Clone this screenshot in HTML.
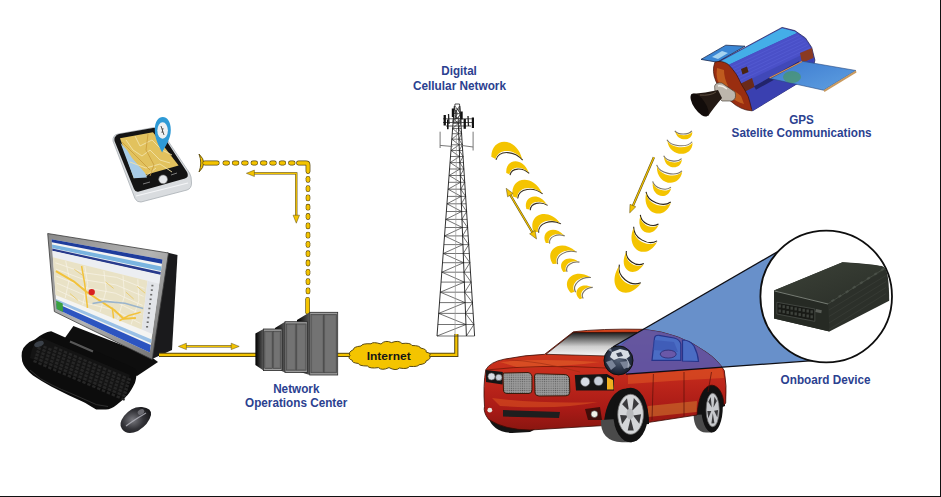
<!DOCTYPE html>
<html><head><meta charset="utf-8"><style>
html,body{margin:0;padding:0;background:#fff;width:941px;height:497px;overflow:hidden}
svg{display:block;position:absolute;left:0;top:0}
text{font-family:"Liberation Sans",sans-serif;font-weight:bold}
</style></head><body>
<svg width="941" height="497" viewBox="0 0 941 497">
<defs>
<linearGradient id="gBezel" x1="0" y1="0" x2="1" y2="1"><stop offset="0" stop-color="#8a8a8a"/><stop offset="0.5" stop-color="#b4b4b4"/><stop offset="1" stop-color="#6a6a6a"/></linearGradient>
<linearGradient id="gSide" x1="0" y1="0" x2="1" y2="0"><stop offset="0" stop-color="#000"/><stop offset="1" stop-color="#5a5a5a"/></linearGradient>
<linearGradient id="gWind" x1="0" y1="0" x2="0" y2="1"><stop offset="0" stop-color="#1a1a1a"/><stop offset="0.6" stop-color="#cfcfcf"/><stop offset="1" stop-color="#f4f4f4"/></linearGradient>
<linearGradient id="gCar" x1="0" y1="0" x2="0" y2="1"><stop offset="0" stop-color="#d4441c"/><stop offset="0.45" stop-color="#c42a1c"/><stop offset="0.8" stop-color="#a81a16"/><stop offset="1" stop-color="#8a1610"/></linearGradient>
<radialGradient id="gMouse" cx="0.4" cy="0.5" r="0.7"><stop offset="0" stop-color="#7a7a80"/><stop offset="0.5" stop-color="#333338"/><stop offset="1" stop-color="#121214"/></radialGradient>
<linearGradient id="gPanel" x1="0" y1="0" x2="1" y2="1"><stop offset="0" stop-color="#3c7ad0"/><stop offset="1" stop-color="#5fa0e0"/></linearGradient>
<linearGradient id="gBody" x1="0" y1="0" x2="0" y2="1"><stop offset="0" stop-color="#5070e0"/><stop offset="1" stop-color="#2838a0"/></linearGradient>
<linearGradient id="gDevTop" x1="0" y1="0" x2="1" y2="1"><stop offset="0" stop-color="#3c4238"/><stop offset="1" stop-color="#2a2e28"/></linearGradient>
<radialGradient id="gEng" cx="0.5" cy="0.45" r="0.6"><stop offset="0" stop-color="#5a667a"/><stop offset="0.6" stop-color="#2a3448"/><stop offset="1" stop-color="#101620"/></radialGradient>
<pattern id="mesh" width="2.2" height="2.2" patternUnits="userSpaceOnUse"><rect width="2.2" height="2.2" fill="#9a9a9a"/><circle cx="1.1" cy="1.1" r="0.6" fill="#5a5a5a"/></pattern>
</defs>
<rect x="940" y="0" width="1" height="497" fill="#111"/>
<rect x="0" y="496" width="941" height="1" fill="#111"/>
<path d="M113,141 Q112.5,135 118,134 L154,127.5 Q159,127 161,130.5 L189.5,173 Q191.5,176 191.5,183 Q191.5,188.5 187,190 L141,202 Q137,202.5 135,198.5 Z" fill="#d9dcdf" stroke="#a8aeb4" stroke-width="0.8"/>
<path d="M136,196 L188,183" stroke="#f4f6f8" stroke-width="1.2"/>
<path d="M115.5,136.5 Q116,134.5 119,134 L153,128 Q158,127.5 160,131 L187,172 Q189.5,177 185,178.5 L139,191.5 Q135.5,192.5 134,189 L114.5,141 Q114,137 115.5,136.5 Z" fill="#141414"/>
<path d="M120,138.2 L153,132.3 L178.6,165.5 L133.8,178.2 Z" fill="#e2c25e"/>
<path d="M120.5,143 L127,150 L132,158 L139,166 L145,173 L147,177.6 L133.8,178.2 Z" fill="#a8cce6"/>
<path d="M126,140 L133,150 L142,156 L150,150 L160,160 L170,163 M135,136 L140,146 L152,140 L162,150 L172,155 M130,162 L146,168 L160,164 L172,172 M146,176 L156,168" stroke="#f2e2a8" stroke-width="0.9" fill="none"/>
<path d="M122,142 L140,160 L150,170 M148,134 L146,150 L154,165 L150,176" stroke="#c89a3a" stroke-width="0.8" fill="none"/>
<circle cx="163.1" cy="179.3" r="4.4" fill="#e6e8ea" stroke="#666" stroke-width="0.6"/>
<path d="M143,184 L150,182 M171,175 L177,173" stroke="#888" stroke-width="0.9"/>
<path d="M154.8,130 C154.8,121 158.5,117 162.8,117 C167,117 170.8,121 170.8,130 C170.8,139 166,145 162.1,152.5 C158.5,145 154.8,139 154.8,130 Z" fill="#2e9ad6"/>
<ellipse cx="162.6" cy="130.5" rx="5.3" ry="8.2" fill="#eef0f2"/>
<path d="M161,126 L164,135 M163,128 L162,133" stroke="#444" stroke-width="0.9"/>
<path d="M199,154 Q208.5,163 199,172 Q202.5,163 199,154 Z" fill="#f4c400" stroke="#5a4a12" stroke-width="0.9"/>
<rect x="202.4" y="160.6" width="17.2" height="4.8" rx="2.4" fill="#5a4a12"/>
<rect x="203.0" y="161.2" width="16.0" height="3.6" rx="1.8" fill="#f4c400"/>
<rect x="222.5" y="160.6" width="7.4" height="4.8" rx="2.4" fill="#5a4a12"/>
<rect x="223.1" y="161.2" width="6.2" height="3.6" rx="1.8" fill="#f4c400"/>
<rect x="231.9" y="160.6" width="7.4" height="4.8" rx="2.4" fill="#5a4a12"/>
<rect x="232.5" y="161.2" width="6.2" height="3.6" rx="1.8" fill="#f4c400"/>
<rect x="241.2" y="160.6" width="7.4" height="4.8" rx="2.4" fill="#5a4a12"/>
<rect x="241.8" y="161.2" width="6.2" height="3.6" rx="1.8" fill="#f4c400"/>
<rect x="250.6" y="160.6" width="7.4" height="4.8" rx="2.4" fill="#5a4a12"/>
<rect x="251.2" y="161.2" width="6.2" height="3.6" rx="1.8" fill="#f4c400"/>
<rect x="260.0" y="160.6" width="7.4" height="4.8" rx="2.4" fill="#5a4a12"/>
<rect x="260.6" y="161.2" width="6.2" height="3.6" rx="1.8" fill="#f4c400"/>
<rect x="269.3" y="160.6" width="7.4" height="4.8" rx="2.4" fill="#5a4a12"/>
<rect x="269.9" y="161.2" width="6.2" height="3.6" rx="1.8" fill="#f4c400"/>
<rect x="278.7" y="160.6" width="7.4" height="4.8" rx="2.4" fill="#5a4a12"/>
<rect x="279.3" y="161.2" width="6.2" height="3.6" rx="1.8" fill="#f4c400"/>
<rect x="288.1" y="160.6" width="7.4" height="4.8" rx="2.4" fill="#5a4a12"/>
<rect x="288.7" y="161.2" width="6.2" height="3.6" rx="1.8" fill="#f4c400"/>
<path d="M298.5,163 L306,163 Q308,163 308,165 L308,171.5" stroke="#5a4a12" stroke-width="4.8" fill="none" stroke-linecap="round"/>
<path d="M298.5,163 L306,163 Q308,163 308,165 L308,171.5" stroke="#f4c400" stroke-width="3.4" fill="none" stroke-linecap="round"/>
<rect x="305.7" y="175.9" width="4.6" height="6.8" rx="2.3" fill="#5a4a12"/>
<rect x="306.3" y="176.5" width="3.4" height="5.6" rx="1.7" fill="#f4c400"/>
<rect x="305.7" y="185.2" width="4.6" height="6.8" rx="2.3" fill="#5a4a12"/>
<rect x="306.3" y="185.8" width="3.4" height="5.6" rx="1.7" fill="#f4c400"/>
<rect x="305.7" y="194.5" width="4.6" height="6.8" rx="2.3" fill="#5a4a12"/>
<rect x="306.3" y="195.1" width="3.4" height="5.6" rx="1.7" fill="#f4c400"/>
<rect x="305.7" y="203.8" width="4.6" height="6.8" rx="2.3" fill="#5a4a12"/>
<rect x="306.3" y="204.4" width="3.4" height="5.6" rx="1.7" fill="#f4c400"/>
<rect x="305.7" y="213.1" width="4.6" height="6.8" rx="2.3" fill="#5a4a12"/>
<rect x="306.3" y="213.7" width="3.4" height="5.6" rx="1.7" fill="#f4c400"/>
<rect x="305.7" y="222.4" width="4.6" height="6.8" rx="2.3" fill="#5a4a12"/>
<rect x="306.3" y="223.0" width="3.4" height="5.6" rx="1.7" fill="#f4c400"/>
<rect x="305.7" y="231.7" width="4.6" height="6.8" rx="2.3" fill="#5a4a12"/>
<rect x="306.3" y="232.3" width="3.4" height="5.6" rx="1.7" fill="#f4c400"/>
<rect x="305.7" y="241.0" width="4.6" height="6.8" rx="2.3" fill="#5a4a12"/>
<rect x="306.3" y="241.6" width="3.4" height="5.6" rx="1.7" fill="#f4c400"/>
<rect x="305.7" y="250.3" width="4.6" height="6.8" rx="2.3" fill="#5a4a12"/>
<rect x="306.3" y="250.9" width="3.4" height="5.6" rx="1.7" fill="#f4c400"/>
<rect x="305.7" y="259.6" width="4.6" height="6.8" rx="2.3" fill="#5a4a12"/>
<rect x="306.3" y="260.2" width="3.4" height="5.6" rx="1.7" fill="#f4c400"/>
<rect x="305.7" y="268.9" width="4.6" height="6.8" rx="2.3" fill="#5a4a12"/>
<rect x="306.3" y="269.5" width="3.4" height="5.6" rx="1.7" fill="#f4c400"/>
<rect x="305.7" y="278.2" width="4.6" height="6.8" rx="2.3" fill="#5a4a12"/>
<rect x="306.3" y="278.8" width="3.4" height="5.6" rx="1.7" fill="#f4c400"/>
<rect x="305.7" y="287.5" width="4.6" height="6.8" rx="2.3" fill="#5a4a12"/>
<rect x="306.3" y="288.1" width="3.4" height="5.6" rx="1.7" fill="#f4c400"/>
<rect x="305.3" y="296.9" width="4.6" height="17.7" rx="2.3" fill="#5a4a12"/>
<rect x="305.9" y="297.5" width="3.4" height="16.5" rx="1.7" fill="#f4c400"/>
<path d="M250,173.3 L296.3,173.3 L296.3,216" stroke="#5a4a12" stroke-width="2.2" fill="none"/>
<path d="M250,173.3 L296.3,173.3 L296.3,216" stroke="#f4c400" stroke-width="1.2" fill="none"/>
<path d="M246.4,173.3 L254.4,170.1 L254.4,176.5 Z" fill="#f4c400" stroke="#5a4a12" stroke-width="0.5"/>
<path d="M296.3,223.2 L293.1,215.2 L299.5,215.2 Z" fill="#f4c400" stroke="#5a4a12" stroke-width="0.5"/>
<path d="M73.4,326 L150,356 L158,362 L137,376 L62,342 Z" fill="#0e0e0e"/>
<path d="M167,252.5 L177.5,255 L172,350 L152,359 Z" fill="#1a1a1c"/>
<path d="M47.7,233.5 L168.5,253 L152.2,359.5 L54.4,311.6 Z" fill="url(#gBezel)" stroke="#3a3a3a" stroke-width="0.8"/>
<path d="M51.6,239.2 L162.5,259.5 L149.8,352.5 L56.6,308.9 Z" fill="#f4f4f2" />
<path d="M51.6,239.2 L162.5,259.5 L161.9,263.7 L51.8,242.3 Z" fill="#1e3c9c" />
<path d="M52.0,244.4 L161.5,266.5 L160.9,271.1 L52.2,247.9 Z" fill="#7ab4e0" />
<path d="M52.3,248.6 L160.8,272.1 L160.4,274.8 L52.4,250.7 Z" fill="#283a8c" />
<path d="M52.5,251.0 L160.3,275.3 L159.2,283.7 L52.9,257.3 Z" fill="#eceef2" />
<path d="M52.9,257.3 L147.5,280.8 L141.7,329.6 L55.6,295.0 Z" fill="#e9e2c6" />
<path d="M147.5,280.8 L159.2,283.7 L152.3,333.9 L141.7,329.6 Z" fill="#e2e4e8" />
<path d="M55.9,299.1 L151.6,339.5 L151.1,343.2 L56.1,301.9 Z" fill="#9ac0e6" />
<path d="M56.2,303.3 L150.8,345.1 L149.8,352.5 L56.6,308.9 Z" fill="#2c54c0" />
<path d="M56.0,300.5 L62.7,303.4 L63.1,312.0 L56.6,308.9 Z" fill="#3aa040" />
<path d="M55.4,262.8 L84.8,272.9 L116.4,277.3 L144.4,288.4" stroke="#f8f4e8" stroke-width="0.7" fill="none" stroke-linejoin="round"/>
<path d="M55.8,269.1 L84.7,279.8 L115.9,284.9 L143.5,296.4" stroke="#f8f4e8" stroke-width="0.7" fill="none" stroke-linejoin="round"/>
<path d="M56.2,276.1 L84.7,287.5 L115.3,293.2 L142.5,305.4" stroke="#f8f4e8" stroke-width="0.7" fill="none" stroke-linejoin="round"/>
<path d="M56.7,283.1 L84.7,295.1 L114.8,301.6 L141.4,314.4" stroke="#f8f4e8" stroke-width="0.7" fill="none" stroke-linejoin="round"/>
<path d="M57.2,290.1 L84.6,302.8 L114.2,310.0 L140.4,323.4" stroke="#f8f4e8" stroke-width="0.7" fill="none" stroke-linejoin="round"/>
<path d="M65.7,261.2 L69.4,278.8 L65.2,298.1" stroke="#f8f4e8" stroke-width="0.7" fill="none" stroke-linejoin="round"/>
<path d="M84.8,266.0 L87.8,284.6 L82.7,305.1" stroke="#f8f4e8" stroke-width="0.7" fill="none" stroke-linejoin="round"/>
<path d="M103.9,270.8 L106.1,290.3 L100.1,312.1" stroke="#f8f4e8" stroke-width="0.7" fill="none" stroke-linejoin="round"/>
<path d="M123.0,275.6 L124.5,296.1 L117.6,319.0" stroke="#f8f4e8" stroke-width="0.7" fill="none" stroke-linejoin="round"/>
<path d="M137.8,279.3 L138.8,300.6 L131.1,324.5" stroke="#f8f4e8" stroke-width="0.7" fill="none" stroke-linejoin="round"/>
<path d="M55.9,271.2 L74.5,281.9 L86.7,292.0 L99.6,300.5 L114.2,310.0 L123.6,318.8 L135.9,318.0" stroke="#f2c23a" stroke-width="2" fill="none" stroke-linejoin="round"/>
<path d="M81.6,266.0 L84.7,283.6 L87.5,307.8" stroke="#f2c23a" stroke-width="1.5" fill="none" stroke-linejoin="round"/>
<path d="M112.3,307.6 L113.6,318.3" stroke="#f2c23a" stroke-width="1.5" fill="none" stroke-linejoin="round"/>
<path d="M119.4,320.7 L129.0,315.4 L140.6,312.3" stroke="#f2c23a" stroke-width="1.6" fill="none" stroke-linejoin="round"/>
<path d="M92.5,303.5 L104.6,301.4 L124.9,303.3 L143.2,308.5" stroke="#9ab4cc" stroke-width="1.6" fill="none" stroke-linejoin="round"/>
<path d="M74.3,269.3 L82.7,275.4" stroke="#e8c860" stroke-width="0.8" fill="none" stroke-linejoin="round"/>
<path d="M105.5,281.9 L113.6,288.4" stroke="#e8c860" stroke-width="0.8" fill="none" stroke-linejoin="round"/>
<path d="M125.9,292.1 L133.7,299.0" stroke="#e8c860" stroke-width="0.8" fill="none" stroke-linejoin="round"/>
<path d="M69.9,293.5 L77.8,300.2" stroke="#e8c860" stroke-width="0.8" fill="none" stroke-linejoin="round"/>
<path d="M137.1,286.4 L145.0,293.1" stroke="#e8c860" stroke-width="0.8" fill="none" stroke-linejoin="round"/>
<circle cx="91.7" cy="292.1" r="3.2" fill="#d82020"/>
<rect x="151.4" y="284.8" width="2" height="1.6" fill="#6a6a6a"/>
<rect x="150.8" y="289.3" width="2" height="1.6" fill="#6a6a6a"/>
<rect x="150.2" y="293.9" width="2" height="1.6" fill="#6a6a6a"/>
<rect x="149.6" y="298.5" width="2" height="1.6" fill="#6a6a6a"/>
<rect x="149.0" y="303.1" width="2" height="1.6" fill="#6a6a6a"/>
<rect x="148.4" y="307.7" width="2" height="1.6" fill="#6a6a6a"/>
<rect x="147.9" y="312.2" width="2" height="1.6" fill="#6a6a6a"/>
<rect x="147.3" y="316.8" width="2" height="1.6" fill="#6a6a6a"/>
<rect x="146.7" y="321.4" width="2" height="1.6" fill="#6a6a6a"/>
<rect x="146.1" y="326.0" width="2" height="1.6" fill="#6a6a6a"/>
<path d="M51.2,331.3 L132.5,367.2 Q137.5,369 136.7,373.3 Q136,380 134.9,383 Q131,391 127.6,395 Q122,401 116.8,404.7 Q111,409.5 105.9,409.5 L96.2,409.5 Q90,406 85,402.8 Q77,399 69.2,395.5 Q60,391 51.2,386.5 Q41,381 33,375.6 Q24,368 22.2,361.2 Q20,350 26,345 Q30,341 34.9,339.5 Q44,332 51.2,331.3 Z" fill="#0c0c0c"/>
<path d="M30,370 Q40,380 52,385 Q62,390 70,393 L86,400 Q96,406 108,406.5" stroke="#323232" stroke-width="0.9" fill="none"/>
<path d="M40,337 L130,375 L123,397 L30,358 Q32,344 40,337 Z" fill="#141414"/>
<rect x="54.7" y="346.2" width="3.4" height="2.4" fill="#262626" transform="rotate(23 54.7 346.2)"/>
<rect x="59.6" y="348.3" width="3.4" height="2.4" fill="#262626" transform="rotate(23 59.6 348.3)"/>
<rect x="64.4" y="350.4" width="3.4" height="2.4" fill="#262626" transform="rotate(23 64.4 350.4)"/>
<rect x="69.3" y="352.5" width="3.4" height="2.4" fill="#262626" transform="rotate(23 69.3 352.5)"/>
<rect x="74.2" y="354.6" width="3.4" height="2.4" fill="#262626" transform="rotate(23 74.2 354.6)"/>
<rect x="79.1" y="356.7" width="3.4" height="2.4" fill="#262626" transform="rotate(23 79.1 356.7)"/>
<rect x="84.0" y="358.8" width="3.4" height="2.4" fill="#262626" transform="rotate(23 84.0 358.8)"/>
<rect x="88.9" y="360.8" width="3.4" height="2.4" fill="#262626" transform="rotate(23 88.9 360.8)"/>
<rect x="93.8" y="362.9" width="3.4" height="2.4" fill="#262626" transform="rotate(23 93.8 362.9)"/>
<rect x="98.7" y="365.0" width="3.4" height="2.4" fill="#262626" transform="rotate(23 98.7 365.0)"/>
<rect x="103.6" y="367.1" width="3.4" height="2.4" fill="#262626" transform="rotate(23 103.6 367.1)"/>
<rect x="108.4" y="369.2" width="3.4" height="2.4" fill="#262626" transform="rotate(23 108.4 369.2)"/>
<rect x="113.3" y="371.2" width="3.4" height="2.4" fill="#262626" transform="rotate(23 113.3 371.2)"/>
<rect x="118.2" y="373.3" width="3.4" height="2.4" fill="#262626" transform="rotate(23 118.2 373.3)"/>
<rect x="123.1" y="375.4" width="3.4" height="2.4" fill="#262626" transform="rotate(23 123.1 375.4)"/>
<rect x="128.0" y="377.5" width="3.4" height="2.4" fill="#262626" transform="rotate(23 128.0 377.5)"/>
<rect x="39.0" y="343.3" width="3.4" height="2.4" fill="#262626" transform="rotate(23 39.0 343.3)"/>
<rect x="43.9" y="345.4" width="3.4" height="2.4" fill="#262626" transform="rotate(23 43.9 345.4)"/>
<rect x="48.8" y="347.5" width="3.4" height="2.4" fill="#262626" transform="rotate(23 48.8 347.5)"/>
<rect x="53.7" y="349.6" width="3.4" height="2.4" fill="#262626" transform="rotate(23 53.7 349.6)"/>
<rect x="58.6" y="351.6" width="3.4" height="2.4" fill="#262626" transform="rotate(23 58.6 351.6)"/>
<rect x="63.4" y="353.7" width="3.4" height="2.4" fill="#262626" transform="rotate(23 63.4 353.7)"/>
<rect x="68.3" y="355.8" width="3.4" height="2.4" fill="#262626" transform="rotate(23 68.3 355.8)"/>
<rect x="73.2" y="357.9" width="3.4" height="2.4" fill="#262626" transform="rotate(23 73.2 357.9)"/>
<rect x="78.1" y="360.0" width="3.4" height="2.4" fill="#262626" transform="rotate(23 78.1 360.0)"/>
<rect x="83.0" y="362.1" width="3.4" height="2.4" fill="#262626" transform="rotate(23 83.0 362.1)"/>
<rect x="87.9" y="364.1" width="3.4" height="2.4" fill="#262626" transform="rotate(23 87.9 364.1)"/>
<rect x="92.8" y="366.2" width="3.4" height="2.4" fill="#262626" transform="rotate(23 92.8 366.2)"/>
<rect x="97.7" y="368.3" width="3.4" height="2.4" fill="#262626" transform="rotate(23 97.7 368.3)"/>
<rect x="102.6" y="370.4" width="3.4" height="2.4" fill="#262626" transform="rotate(23 102.6 370.4)"/>
<rect x="107.4" y="372.5" width="3.4" height="2.4" fill="#262626" transform="rotate(23 107.4 372.5)"/>
<rect x="112.3" y="374.6" width="3.4" height="2.4" fill="#262626" transform="rotate(23 112.3 374.6)"/>
<rect x="117.2" y="376.6" width="3.4" height="2.4" fill="#262626" transform="rotate(23 117.2 376.6)"/>
<rect x="122.1" y="378.7" width="3.4" height="2.4" fill="#262626" transform="rotate(23 122.1 378.7)"/>
<rect x="127.0" y="380.8" width="3.4" height="2.4" fill="#262626" transform="rotate(23 127.0 380.8)"/>
<rect x="38.0" y="346.6" width="3.4" height="2.4" fill="#262626" transform="rotate(23 38.0 346.6)"/>
<rect x="42.9" y="348.7" width="3.4" height="2.4" fill="#262626" transform="rotate(23 42.9 348.7)"/>
<rect x="47.8" y="350.8" width="3.4" height="2.4" fill="#262626" transform="rotate(23 47.8 350.8)"/>
<rect x="52.7" y="352.9" width="3.4" height="2.4" fill="#262626" transform="rotate(23 52.7 352.9)"/>
<rect x="57.6" y="354.9" width="3.4" height="2.4" fill="#262626" transform="rotate(23 57.6 354.9)"/>
<rect x="62.4" y="357.0" width="3.4" height="2.4" fill="#262626" transform="rotate(23 62.4 357.0)"/>
<rect x="67.3" y="359.1" width="3.4" height="2.4" fill="#262626" transform="rotate(23 67.3 359.1)"/>
<rect x="72.2" y="361.2" width="3.4" height="2.4" fill="#262626" transform="rotate(23 72.2 361.2)"/>
<rect x="77.1" y="363.3" width="3.4" height="2.4" fill="#262626" transform="rotate(23 77.1 363.3)"/>
<rect x="82.0" y="365.4" width="3.4" height="2.4" fill="#262626" transform="rotate(23 82.0 365.4)"/>
<rect x="86.9" y="367.4" width="3.4" height="2.4" fill="#262626" transform="rotate(23 86.9 367.4)"/>
<rect x="91.8" y="369.5" width="3.4" height="2.4" fill="#262626" transform="rotate(23 91.8 369.5)"/>
<rect x="96.7" y="371.6" width="3.4" height="2.4" fill="#262626" transform="rotate(23 96.7 371.6)"/>
<rect x="101.6" y="373.7" width="3.4" height="2.4" fill="#262626" transform="rotate(23 101.6 373.7)"/>
<rect x="106.4" y="375.8" width="3.4" height="2.4" fill="#262626" transform="rotate(23 106.4 375.8)"/>
<rect x="111.3" y="377.9" width="3.4" height="2.4" fill="#262626" transform="rotate(23 111.3 377.9)"/>
<rect x="116.2" y="379.9" width="3.4" height="2.4" fill="#262626" transform="rotate(23 116.2 379.9)"/>
<rect x="121.1" y="382.0" width="3.4" height="2.4" fill="#262626" transform="rotate(23 121.1 382.0)"/>
<rect x="126.0" y="384.1" width="3.4" height="2.4" fill="#262626" transform="rotate(23 126.0 384.1)"/>
<rect x="37.0" y="349.9" width="3.4" height="2.4" fill="#262626" transform="rotate(23 37.0 349.9)"/>
<rect x="41.9" y="352.0" width="3.4" height="2.4" fill="#262626" transform="rotate(23 41.9 352.0)"/>
<rect x="46.8" y="354.1" width="3.4" height="2.4" fill="#262626" transform="rotate(23 46.8 354.1)"/>
<rect x="51.7" y="356.1" width="3.4" height="2.4" fill="#262626" transform="rotate(23 51.7 356.1)"/>
<rect x="56.6" y="358.2" width="3.4" height="2.4" fill="#262626" transform="rotate(23 56.6 358.2)"/>
<rect x="61.4" y="360.3" width="3.4" height="2.4" fill="#262626" transform="rotate(23 61.4 360.3)"/>
<rect x="66.3" y="362.4" width="3.4" height="2.4" fill="#262626" transform="rotate(23 66.3 362.4)"/>
<rect x="71.2" y="364.5" width="3.4" height="2.4" fill="#262626" transform="rotate(23 71.2 364.5)"/>
<rect x="76.1" y="366.6" width="3.4" height="2.4" fill="#262626" transform="rotate(23 76.1 366.6)"/>
<rect x="81.0" y="368.6" width="3.4" height="2.4" fill="#262626" transform="rotate(23 81.0 368.6)"/>
<rect x="85.9" y="370.7" width="3.4" height="2.4" fill="#262626" transform="rotate(23 85.9 370.7)"/>
<rect x="90.8" y="372.8" width="3.4" height="2.4" fill="#262626" transform="rotate(23 90.8 372.8)"/>
<rect x="95.7" y="374.9" width="3.4" height="2.4" fill="#262626" transform="rotate(23 95.7 374.9)"/>
<rect x="100.6" y="377.0" width="3.4" height="2.4" fill="#262626" transform="rotate(23 100.6 377.0)"/>
<rect x="105.4" y="379.1" width="3.4" height="2.4" fill="#262626" transform="rotate(23 105.4 379.1)"/>
<rect x="110.3" y="381.1" width="3.4" height="2.4" fill="#262626" transform="rotate(23 110.3 381.1)"/>
<rect x="115.2" y="383.2" width="3.4" height="2.4" fill="#262626" transform="rotate(23 115.2 383.2)"/>
<rect x="120.1" y="385.3" width="3.4" height="2.4" fill="#262626" transform="rotate(23 120.1 385.3)"/>
<rect x="125.0" y="387.4" width="3.4" height="2.4" fill="#262626" transform="rotate(23 125.0 387.4)"/>
<rect x="36.0" y="353.2" width="3.4" height="2.4" fill="#262626" transform="rotate(23 36.0 353.2)"/>
<rect x="40.9" y="355.3" width="3.4" height="2.4" fill="#262626" transform="rotate(23 40.9 355.3)"/>
<rect x="45.8" y="357.4" width="3.4" height="2.4" fill="#262626" transform="rotate(23 45.8 357.4)"/>
<rect x="50.7" y="359.4" width="3.4" height="2.4" fill="#262626" transform="rotate(23 50.7 359.4)"/>
<rect x="55.6" y="361.5" width="3.4" height="2.4" fill="#262626" transform="rotate(23 55.6 361.5)"/>
<rect x="60.4" y="363.6" width="3.4" height="2.4" fill="#262626" transform="rotate(23 60.4 363.6)"/>
<rect x="65.3" y="365.7" width="3.4" height="2.4" fill="#262626" transform="rotate(23 65.3 365.7)"/>
<rect x="70.2" y="367.8" width="3.4" height="2.4" fill="#262626" transform="rotate(23 70.2 367.8)"/>
<rect x="75.1" y="369.9" width="3.4" height="2.4" fill="#262626" transform="rotate(23 75.1 369.9)"/>
<rect x="80.0" y="371.9" width="3.4" height="2.4" fill="#262626" transform="rotate(23 80.0 371.9)"/>
<rect x="84.9" y="374.0" width="3.4" height="2.4" fill="#262626" transform="rotate(23 84.9 374.0)"/>
<rect x="89.8" y="376.1" width="3.4" height="2.4" fill="#262626" transform="rotate(23 89.8 376.1)"/>
<rect x="94.7" y="378.2" width="3.4" height="2.4" fill="#262626" transform="rotate(23 94.7 378.2)"/>
<rect x="99.6" y="380.3" width="3.4" height="2.4" fill="#262626" transform="rotate(23 99.6 380.3)"/>
<rect x="104.4" y="382.4" width="3.4" height="2.4" fill="#262626" transform="rotate(23 104.4 382.4)"/>
<rect x="109.3" y="384.4" width="3.4" height="2.4" fill="#262626" transform="rotate(23 109.3 384.4)"/>
<rect x="114.2" y="386.5" width="3.4" height="2.4" fill="#262626" transform="rotate(23 114.2 386.5)"/>
<rect x="119.1" y="388.6" width="3.4" height="2.4" fill="#262626" transform="rotate(23 119.1 388.6)"/>
<rect x="124.0" y="390.7" width="3.4" height="2.4" fill="#262626" transform="rotate(23 124.0 390.7)"/>
<rect x="35.0" y="356.5" width="3.4" height="2.4" fill="#262626" transform="rotate(23 35.0 356.5)"/>
<rect x="39.9" y="358.6" width="3.4" height="2.4" fill="#262626" transform="rotate(23 39.9 358.6)"/>
<rect x="44.8" y="360.7" width="3.4" height="2.4" fill="#262626" transform="rotate(23 44.8 360.7)"/>
<rect x="49.7" y="362.8" width="3.4" height="2.4" fill="#262626" transform="rotate(23 49.7 362.8)"/>
<rect x="54.6" y="364.8" width="3.4" height="2.4" fill="#262626" transform="rotate(23 54.6 364.8)"/>
<rect x="59.4" y="366.9" width="3.4" height="2.4" fill="#262626" transform="rotate(23 59.4 366.9)"/>
<rect x="64.3" y="369.0" width="3.4" height="2.4" fill="#262626" transform="rotate(23 64.3 369.0)"/>
<rect x="69.2" y="371.1" width="3.4" height="2.4" fill="#262626" transform="rotate(23 69.2 371.1)"/>
<rect x="74.1" y="373.2" width="3.4" height="2.4" fill="#262626" transform="rotate(23 74.1 373.2)"/>
<rect x="79.0" y="375.2" width="3.4" height="2.4" fill="#262626" transform="rotate(23 79.0 375.2)"/>
<rect x="83.9" y="377.3" width="3.4" height="2.4" fill="#262626" transform="rotate(23 83.9 377.3)"/>
<rect x="88.8" y="379.4" width="3.4" height="2.4" fill="#262626" transform="rotate(23 88.8 379.4)"/>
<rect x="93.7" y="381.5" width="3.4" height="2.4" fill="#262626" transform="rotate(23 93.7 381.5)"/>
<rect x="98.6" y="383.6" width="3.4" height="2.4" fill="#262626" transform="rotate(23 98.6 383.6)"/>
<rect x="103.4" y="385.7" width="3.4" height="2.4" fill="#262626" transform="rotate(23 103.4 385.7)"/>
<rect x="108.3" y="387.8" width="3.4" height="2.4" fill="#262626" transform="rotate(23 108.3 387.8)"/>
<rect x="113.2" y="389.8" width="3.4" height="2.4" fill="#262626" transform="rotate(23 113.2 389.8)"/>
<rect x="118.1" y="391.9" width="3.4" height="2.4" fill="#262626" transform="rotate(23 118.1 391.9)"/>
<rect x="123.0" y="394.0" width="3.4" height="2.4" fill="#262626" transform="rotate(23 123.0 394.0)"/>
<rect x="34.0" y="359.8" width="3.4" height="2.4" fill="#262626" transform="rotate(23 34.0 359.8)"/>
<rect x="38.9" y="361.9" width="3.4" height="2.4" fill="#262626" transform="rotate(23 38.9 361.9)"/>
<rect x="43.8" y="364.0" width="3.4" height="2.4" fill="#262626" transform="rotate(23 43.8 364.0)"/>
<rect x="48.7" y="366.1" width="3.4" height="2.4" fill="#262626" transform="rotate(23 48.7 366.1)"/>
<rect x="53.6" y="368.1" width="3.4" height="2.4" fill="#262626" transform="rotate(23 53.6 368.1)"/>
<rect x="58.4" y="370.2" width="3.4" height="2.4" fill="#262626" transform="rotate(23 58.4 370.2)"/>
<rect x="63.3" y="372.3" width="3.4" height="2.4" fill="#262626" transform="rotate(23 63.3 372.3)"/>
<rect x="68.2" y="374.4" width="3.4" height="2.4" fill="#262626" transform="rotate(23 68.2 374.4)"/>
<rect x="73.1" y="376.5" width="3.4" height="2.4" fill="#262626" transform="rotate(23 73.1 376.5)"/>
<rect x="78.0" y="378.6" width="3.4" height="2.4" fill="#262626" transform="rotate(23 78.0 378.6)"/>
<rect x="82.9" y="380.6" width="3.4" height="2.4" fill="#262626" transform="rotate(23 82.9 380.6)"/>
<rect x="87.8" y="382.7" width="3.4" height="2.4" fill="#262626" transform="rotate(23 87.8 382.7)"/>
<rect x="92.7" y="384.8" width="3.4" height="2.4" fill="#262626" transform="rotate(23 92.7 384.8)"/>
<rect x="97.6" y="386.9" width="3.4" height="2.4" fill="#262626" transform="rotate(23 97.6 386.9)"/>
<rect x="102.4" y="389.0" width="3.4" height="2.4" fill="#262626" transform="rotate(23 102.4 389.0)"/>
<rect x="107.3" y="391.1" width="3.4" height="2.4" fill="#262626" transform="rotate(23 107.3 391.1)"/>
<rect x="112.2" y="393.1" width="3.4" height="2.4" fill="#262626" transform="rotate(23 112.2 393.1)"/>
<rect x="117.1" y="395.2" width="3.4" height="2.4" fill="#262626" transform="rotate(23 117.1 395.2)"/>
<rect x="122.0" y="397.3" width="3.4" height="2.4" fill="#262626" transform="rotate(23 122.0 397.3)"/>
<path d="M70,341.5 L93,351.5" stroke="#8a8a8a" stroke-width="2.2" opacity="0.6"/>
<ellipse cx="39" cy="344" rx="5" ry="2.6" fill="#3a4048" transform="rotate(-20 39 344)"/>
<path d="M122,429 Q118,424 124,416 Q132,406 142,407 Q152,408 151,415 Q149,424 138,431 Q127,436 122,429 Z" fill="url(#gMouse)"/>
<path d="M126,426 Q134,420 146,413" stroke="#b8b8c0" stroke-width="1.3" fill="none" opacity="0.8"/><ellipse cx="141" cy="412" rx="3.5" ry="2.5" fill="#6a6a70" transform="rotate(-30 141 412)"/>
<path d="M159,354.9 L256,354.9" stroke="#5a4a12" stroke-width="4.2" fill="none" stroke-linejoin="miter"/>
<path d="M159,354.9 L256,354.9" stroke="#f4c400" stroke-width="2.2" fill="none" stroke-linejoin="miter"/>
<path d="M337,354.9 L352,354.9" stroke="#5a4a12" stroke-width="4.2" fill="none" stroke-linejoin="miter"/>
<path d="M337,354.9 L352,354.9" stroke="#f4c400" stroke-width="2.2" fill="none" stroke-linejoin="miter"/>
<path d="M428,354.9 L456.3,354.9 L456.3,334" stroke="#5a4a12" stroke-width="4.2" fill="none" stroke-linejoin="miter"/>
<path d="M428,354.9 L456.3,354.9 L456.3,334" stroke="#f4c400" stroke-width="2.2" fill="none" stroke-linejoin="miter"/>
<path d="M182,346.4 L235,346.4" stroke="#5a4a12" stroke-width="2.2" fill="none"/>
<path d="M182,346.4 L235,346.4" stroke="#f4c400" stroke-width="1.2" fill="none"/>
<path d="M178.4,346.4 L186.4,343.2 L186.4,349.6 Z" fill="#f4c400" stroke="#5a4a12" stroke-width="0.5"/>
<path d="M239.2,346.4 L231.2,349.6 L231.2,343.2 Z" fill="#f4c400" stroke="#5a4a12" stroke-width="0.5"/>
<path d="M297,320 L309.7,312.3 L309.7,375 L297,371 Z" fill="url(#gSide)"/>
<rect x="309.7" y="312.3" width="28.0" height="62.69999999999999" fill="#9c9c9c" stroke="#2a2a2a" stroke-width="0.8"/>
<rect x="310.9" y="314.5" width="12.5" height="58.3" fill="#6a6a6a" stroke="#3a3a3a" stroke-width="0.6"/>
<rect x="312.1" y="315.7" width="10.1" height="55.9" fill="#737373"/>
<rect x="324.0" y="314.5" width="12.5" height="58.3" fill="#6a6a6a" stroke="#3a3a3a" stroke-width="0.6"/>
<rect x="325.2" y="315.7" width="10.1" height="55.9" fill="#737373"/>
<path d="M275,328 L285,321.7 L285,372.4 L275,368 Z" fill="url(#gSide)"/>
<rect x="285" y="321.7" width="22.30000000000001" height="50.69999999999999" fill="#9c9c9c" stroke="#2a2a2a" stroke-width="0.8"/>
<rect x="286.2" y="323.9" width="9.7" height="46.3" fill="#6a6a6a" stroke="#3a3a3a" stroke-width="0.6"/>
<rect x="287.4" y="325.1" width="7.3" height="43.9" fill="#737373"/>
<rect x="296.4" y="323.9" width="9.7" height="46.3" fill="#6a6a6a" stroke="#3a3a3a" stroke-width="0.6"/>
<rect x="297.6" y="325.1" width="7.3" height="43.9" fill="#737373"/>
<path d="M255.4,333.5 L263.5,329 L263.5,370.6 L255.4,365 Z" fill="url(#gSide)"/>
<rect x="263.5" y="329" width="18.5" height="41.60000000000002" fill="#9c9c9c" stroke="#2a2a2a" stroke-width="0.8"/>
<rect x="264.7" y="331.2" width="7.8" height="37.2" fill="#6a6a6a" stroke="#3a3a3a" stroke-width="0.6"/>
<rect x="265.9" y="332.4" width="5.3" height="34.8" fill="#737373"/>
<rect x="273.1" y="331.2" width="7.8" height="37.2" fill="#6a6a6a" stroke="#3a3a3a" stroke-width="0.6"/>
<rect x="274.2" y="332.4" width="5.3" height="34.8" fill="#737373"/>
<path d="M350,355.7 Q347.6,352.3 353.5,349.5 Q353.2,346.9 361,346 Q362.2,343.3 371,343.8 Q372.8,341.4 381,344 Q385.2,339.6 391.5,342.6 Q398.9,339.8 402,343.5 Q410.6,342.5 412,345.5 Q420.2,345.6 420.5,348 Q427.4,349.4 426,352 Q431.9,353.7 429.5,355.7 Q431.9,358.6 426,361 Q426.6,363.7 419,364.8 Q418.1,367.0 409.5,366.4 Q407.8,369.5 399.5,368 Q395.8,371.3 389,367.6 Q381.9,371.0 378.5,367.6 Q369.5,368.9 367.5,366 Q359.0,366.0 358.5,363.5 Q351.4,362.7 352.5,360.5 Q347.1,358.4 350,355.7 Z" fill="#f4c400" stroke="#5a4a12" stroke-width="1"/>
<text x="388.7" y="359.5" font-size="11.8" fill="#161616" text-anchor="middle" textLength="44" lengthAdjust="spacingAndGlyphs">Internet</text>
<text x="459.1" y="75.2" font-size="11.9" fill="#2b4190" text-anchor="middle" textLength="35.5" lengthAdjust="spacingAndGlyphs">Digital</text>
<text x="459.5" y="89.6" font-size="11.9" fill="#2b4190" text-anchor="middle" textLength="93" lengthAdjust="spacingAndGlyphs">Cellular Network</text>
<text x="296.3" y="392.7" font-size="11.9" fill="#2b4190" text-anchor="middle" textLength="46.3" lengthAdjust="spacingAndGlyphs">Network</text>
<text x="296.2" y="406.6" font-size="11.9" fill="#2b4190" text-anchor="middle" textLength="102.2" lengthAdjust="spacingAndGlyphs">Operations Center</text>
<text x="801.6" y="123.5" font-size="11.9" fill="#2b4190" text-anchor="middle" textLength="24.6" lengthAdjust="spacingAndGlyphs">GPS</text>
<text x="801.6" y="137.4" font-size="11.9" fill="#2b4190" text-anchor="middle" textLength="140" lengthAdjust="spacingAndGlyphs">Satelite Communications</text>
<text x="825.6" y="384.4" font-size="11.9" fill="#2b4190" text-anchor="middle" textLength="90" lengthAdjust="spacingAndGlyphs">Onboard Device</text>
<path d="M437.0,336.0 L474.6,336.0 M437.0,336.0 L466.0,324.5 M466.4,336.0 L473.9,324.5 M437.9,324.5 L473.9,324.5 M466.0,324.5 L438.7,313.4 M473.9,324.5 L465.5,313.4 M438.7,313.4 L473.1,313.4 M438.7,313.4 L465.1,302.6 M465.5,313.4 L472.5,302.6 M439.5,302.6 L472.5,302.6 M465.1,302.6 L440.3,292.2 M472.5,302.6 L464.7,292.2 M440.3,292.2 L471.8,292.2 M440.3,292.2 L464.3,282.1 M464.7,292.2 L471.1,282.1 M441.1,282.1 L471.1,282.1 M464.3,282.1 L441.8,272.2 M471.1,282.1 L464.0,272.2 M441.8,272.2 L470.5,272.2 M441.8,272.2 L463.6,262.7 M464.0,272.2 L469.9,262.7 M442.5,262.7 L469.9,262.7 M463.6,262.7 L443.2,253.5 M469.9,262.7 L463.3,253.5 M443.2,253.5 L469.3,253.5 M443.2,253.5 L462.9,244.6 M463.3,253.5 L468.7,244.6 M443.9,244.6 L468.7,244.6 M462.9,244.6 L444.5,235.9 M468.7,244.6 L462.6,235.9 M444.5,235.9 L468.2,235.9 M444.5,235.9 L462.3,227.5 M462.6,235.9 L467.6,227.5 M445.2,227.5 L467.6,227.5 M462.3,227.5 L445.8,219.4 M467.6,227.5 L461.9,219.4 M445.8,219.4 L467.1,219.4 M445.8,219.4 L461.6,211.5 M461.9,219.4 L466.6,211.5 M446.4,211.5 L466.6,211.5 M461.6,211.5 L447.0,203.8 M466.6,211.5 L461.4,203.8 M447.0,203.8 L466.1,203.8 M447.0,203.8 L461.1,196.4 M461.4,203.8 L465.6,196.4 M447.5,196.4 L465.6,196.4 M461.1,196.4 L448.1,189.2 M465.6,196.4 L460.8,189.2 M448.1,189.2 L465.2,189.2 M448.1,189.2 L460.5,182.3 M460.8,189.2 L464.7,182.3 M448.6,182.3 L464.7,182.3 M460.5,182.3 L449.1,175.5 M464.7,182.3 L460.3,175.5 M449.1,175.5 L464.3,175.5 M449.1,175.5 L460.0,169.0 M460.3,175.5 L463.9,169.0 M449.6,169.0 L463.9,169.0 M460.0,169.0 L450.1,162.6 M463.9,169.0 L459.8,162.6 M450.1,162.6 L463.5,162.6 M450.1,162.6 L459.5,156.5 M459.8,162.6 L463.1,156.5 M450.5,156.5 L463.1,156.5 M459.5,156.5 L451.0,150.5 M463.1,156.5 L459.3,150.5 M451.0,150.5 L462.7,150.5 M451.0,150.5 L459.1,144.8 M459.3,150.5 L462.3,144.8 M451.4,144.8 L462.3,144.8 M459.1,144.8 L451.8,139.2 M462.3,144.8 L458.9,139.2 M451.8,139.2 L462.0,139.2 M451.8,139.2 L458.7,133.7 M458.9,139.2 L461.6,133.7 M452.2,133.7 L461.6,133.7 M458.7,133.7 L452.6,128.5 M461.6,133.7 L458.5,128.5 M452.6,128.5 L461.3,128.5 M452.6,128.5 L458.3,123.4 M458.5,128.5 L460.9,123.4 M453.0,123.4 L460.9,123.4 M458.3,123.4 L453.4,118.4 M460.9,123.4 L458.1,118.4 M453.4,118.4 L460.6,118.4 M453.4,118.4 L457.9,113.6 M458.1,118.4 L460.3,113.6 M453.8,113.6 L460.3,113.6 M457.9,113.6 L454.1,109.0 M460.3,113.6 L457.7,109.0 M454.1,109.0 L460.0,109.0" stroke="#262626" stroke-width="0.65" fill="none"/>
<path d="M456.5,129 L455.0,336" stroke="#9a9a9a" stroke-width="0.7"/>
<path d="M454.3,106 L437.0,336 M459.8,106 L474.6,336 M458.2,120 L466.4,336" stroke="#1a1a1a" stroke-width="0.9" fill="none"/>
<path d="M455,104 L459.5,104 L461,122 L453,122 Z" fill="none" stroke="#222" stroke-width="0.8"/>
<path d="M455,106 L460,113 M459.5,106 L454.5,114 M453.5,115 L460.5,121 M460.5,115 L453.5,121" stroke="#222" stroke-width="0.6"/>
<path d="M443,118.8 L474,118.8 M443,122.5 L474,122.5 M446,126 L471,126" stroke="#333" stroke-width="0.8"/>
<rect x="443.6" y="115" width="2.3" height="10.5" fill="#111"/>
<rect x="447" y="119.5" width="1.6" height="9.7" fill="#111"/>
<rect x="451.8" y="108.5" width="2.2" height="8.5" fill="#111"/>
<rect x="460.5" y="111.5" width="2.2" height="8.0" fill="#111"/>
<rect x="463.6" y="119" width="2.3" height="9.8" fill="#111"/>
<rect x="471.8" y="117.5" width="2.2" height="10.5" fill="#111"/>
<path d="M448.5,114 L449,124 M456,110 L456,119 M468,116 L468.5,126" stroke="#222" stroke-width="1.3"/>
<path d="M440.1,131.7 L440.1,148 M473.1,131.7 L473.1,150.5 M440.1,145.4 L452.5,146.5 M473.1,147 L462,145.5" stroke="#6a6a6a" stroke-width="0.9" fill="none"/>
<g transform="translate(507.2,149.5) rotate(3.0) translate(0,8.1)"><path d="M15.50,0.81 C6.98,-8.06 -8.53,-8.70 -11.16,1.93" stroke="#3a3222" stroke-width="1.1" fill="none" transform="translate(0.5,0.9)"/><path d="M-15.50,0 C-16.28,-20.15 8.53,-21.76 15.50,0.81 C6.98,-9.03 -8.53,-9.67 -11.16,1.93 Z" fill="#f4c400"/></g>
<g transform="translate(517.2,166.7) rotate(-2.6) translate(0,5.8)"><path d="M11.17,0.58 C5.02,-5.81 -6.14,-6.27 -8.04,1.39" stroke="#3a3222" stroke-width="1.1" fill="none" transform="translate(0.5,0.9)"/><path d="M-11.17,0 C-11.72,-14.52 6.14,-15.68 11.17,0.58 C5.02,-6.50 -6.14,-6.97 -8.04,1.39 Z" fill="#f4c400"/></g>
<g transform="translate(526.2,186.7) rotate(-8.1) translate(0,7.7)"><path d="M14.72,0.77 C6.62,-7.66 -8.10,-8.27 -10.60,1.84" stroke="#3a3222" stroke-width="1.1" fill="none" transform="translate(0.5,0.9)"/><path d="M-14.72,0 C-15.46,-19.14 8.10,-20.67 14.72,0.77 C6.62,-8.57 -8.10,-9.19 -10.60,1.84 Z" fill="#f4c400"/></g>
<g transform="translate(535.3,201.2) rotate(-13.7) translate(0,5.5)"><path d="M10.50,0.55 C4.73,-5.46 -5.78,-5.90 -7.56,1.31" stroke="#3a3222" stroke-width="1.1" fill="none" transform="translate(0.5,0.9)"/><path d="M-10.50,0 C-11.03,-13.65 5.78,-14.74 10.50,0.55 C4.73,-6.12 -5.78,-6.55 -7.56,1.31 Z" fill="#f4c400"/></g>
<g transform="translate(544.4,220.2) rotate(-19.2) translate(0,7.3)"><path d="M13.94,0.73 C6.28,-7.25 -7.67,-7.83 -10.04,1.74" stroke="#3a3222" stroke-width="1.1" fill="none" transform="translate(0.5,0.9)"/><path d="M-13.94,0 C-14.64,-18.13 7.67,-19.58 13.94,0.73 C6.28,-8.12 -7.67,-8.70 -10.04,1.74 Z" fill="#f4c400"/></g>
<g transform="translate(552.6,234.3) rotate(-24.8) translate(0,5.1)"><path d="M9.83,0.51 C4.43,-5.11 -5.41,-5.52 -7.08,1.23" stroke="#7a7468" stroke-width="1.1" fill="none" transform="translate(0.5,0.9)"/><path d="M-9.83,0 C-10.33,-12.78 5.41,-13.81 9.83,0.51 C4.43,-5.73 -5.41,-6.14 -7.08,1.23 Z" fill="#f4c400"/></g>
<g transform="translate(560.7,251.6) rotate(-30.3) translate(0,6.8)"><path d="M13.17,0.68 C5.93,-6.85 -7.24,-7.39 -9.48,1.64" stroke="#7a7468" stroke-width="1.1" fill="none" transform="translate(0.5,0.9)"/><path d="M-13.17,0 C-13.83,-17.12 7.24,-18.49 13.17,0.68 C5.93,-7.67 -7.24,-8.22 -9.48,1.64 Z" fill="#f4c400"/></g>
<g transform="translate(568.0,262.8) rotate(-35.9) translate(0,4.8)"><path d="M9.17,0.48 C4.12,-4.77 -5.04,-5.15 -6.60,1.14" stroke="#7a7468" stroke-width="1.1" fill="none" transform="translate(0.5,0.9)"/><path d="M-9.17,0 C-9.62,-11.92 5.04,-12.87 9.17,0.48 C4.12,-5.34 -5.04,-5.72 -6.60,1.14 Z" fill="#f4c400"/></g>
<g transform="translate(576.0,280.0) rotate(-41.4) translate(0,6.4)"><path d="M12.39,0.64 C5.58,-6.44 -6.81,-6.96 -8.92,1.55" stroke="#7a7468" stroke-width="1.1" fill="none" transform="translate(0.5,0.9)"/><path d="M-12.39,0 C-13.01,-16.11 6.81,-17.39 12.39,0.64 C5.58,-7.22 -6.81,-7.73 -8.92,1.55 Z" fill="#f4c400"/></g>
<g transform="translate(582.4,290.0) rotate(-47.0) translate(0,4.4)"><path d="M8.50,0.44 C3.83,-4.42 -4.68,-4.77 -6.12,1.06" stroke="#7a7468" stroke-width="1.1" fill="none" transform="translate(0.5,0.9)"/><path d="M-8.50,0 C-8.93,-11.05 4.68,-11.93 8.50,0.44 C3.83,-4.95 -4.68,-5.30 -6.12,1.06 Z" fill="#f4c400"/></g>
<g transform="translate(683.8,135.5) rotate(180.0) translate(0,3.8)"><path d="M8.50,0 C5.27,-4.28 -5.27,-4.13 -8.50,0" stroke="#7a7468" stroke-width="1.1" fill="none" transform="translate(0.5,0.9)"/><path d="M-8.50,0 C-9.18,-9.95 6.38,-10.40 8.50,0 C5.27,-4.74 -5.27,-4.59 -8.50,0 Z" fill="#f4c400"/></g>
<g transform="translate(679.5,147.7) rotate(184.4) translate(0,6.0)"><path d="M12.67,0 C7.85,-6.75 -7.85,-6.51 -12.67,0" stroke="#7a7468" stroke-width="1.1" fill="none" transform="translate(0.5,0.9)"/><path d="M-12.67,0 C-13.68,-15.66 9.50,-16.38 12.67,0 C7.85,-7.47 -7.85,-7.23 -12.67,0 Z" fill="#f4c400"/></g>
<g transform="translate(672.3,162.6) rotate(188.9) translate(0,4.5)"><path d="M9.06,0 C5.61,-5.08 -5.61,-4.90 -9.06,0" stroke="#7a7468" stroke-width="1.1" fill="none" transform="translate(0.5,0.9)"/><path d="M-9.06,0 C-9.78,-11.80 6.79,-12.34 9.06,0 C5.61,-5.63 -5.61,-5.45 -9.06,0 Z" fill="#f4c400"/></g>
<g transform="translate(668.0,175.5) rotate(193.3) translate(0,6.8)"><path d="M13.00,0 C8.06,-7.67 -8.06,-7.39 -13.00,0" stroke="#7a7468" stroke-width="1.1" fill="none" transform="translate(0.5,0.9)"/><path d="M-13.00,0 C-14.04,-17.80 9.75,-18.62 13.00,0 C8.06,-8.49 -8.06,-8.22 -13.00,0 Z" fill="#f4c400"/></g>
<g transform="translate(660.4,190.3) rotate(197.8) translate(0,5.3)"><path d="M9.61,0 C5.96,-5.94 -5.96,-5.73 -9.61,0" stroke="#7a7468" stroke-width="1.1" fill="none" transform="translate(0.5,0.9)"/><path d="M-9.61,0 C-10.38,-13.80 7.21,-14.44 9.61,0 C5.96,-6.58 -5.96,-6.37 -9.61,0 Z" fill="#f4c400"/></g>
<g transform="translate(655.6,205.1) rotate(202.2) translate(0,7.7)"><path d="M13.33,0 C8.27,-8.63 -8.27,-8.32 -13.33,0" stroke="#2a2418" stroke-width="1.1" fill="none" transform="translate(0.5,0.9)"/><path d="M-13.33,0 C-14.40,-20.03 10.00,-20.95 13.33,0 C8.27,-9.55 -8.27,-9.24 -13.33,0 Z" fill="#f4c400"/></g>
<g transform="translate(646.7,225.9) rotate(206.7) translate(0,6.1)"><path d="M10.17,0 C6.30,-6.87 -6.30,-6.62 -10.17,0" stroke="#2a2418" stroke-width="1.1" fill="none" transform="translate(0.5,0.9)"/><path d="M-10.17,0 C-10.98,-15.95 7.62,-16.68 10.17,0 C6.30,-7.61 -6.30,-7.36 -10.17,0 Z" fill="#f4c400"/></g>
<g transform="translate(640.9,242.2) rotate(211.1) translate(0,8.6)"><path d="M13.67,0 C8.47,-9.63 -8.47,-9.28 -13.67,0" stroke="#2a2418" stroke-width="1.1" fill="none" transform="translate(0.5,0.9)"/><path d="M-13.67,0 C-14.76,-22.35 10.25,-23.38 13.67,0 C8.47,-10.66 -8.47,-10.31 -13.67,0 Z" fill="#f4c400"/></g>
<g transform="translate(630.9,264.0) rotate(215.6) translate(0,7.0)"><path d="M10.72,0 C6.65,-7.86 -6.65,-7.58 -10.72,0" stroke="#2a2418" stroke-width="1.1" fill="none" transform="translate(0.5,0.9)"/><path d="M-10.72,0 C-11.58,-18.24 8.04,-19.09 10.72,0 C6.65,-8.70 -6.65,-8.42 -10.72,0 Z" fill="#f4c400"/></g>
<g transform="translate(623.8,282.0) rotate(220.0) translate(0,9.5)"><path d="M14.00,0 C8.68,-10.66 -8.68,-10.28 -14.00,0" stroke="#2a2418" stroke-width="1.1" fill="none" transform="translate(0.5,0.9)"/><path d="M-14.00,0 C-15.12,-24.75 10.50,-25.89 14.00,0 C8.68,-11.80 -8.68,-11.42 -14.00,0 Z" fill="#f4c400"/></g>
<path d="M508.5,192 L534,235" stroke="#5a4a12" stroke-width="2.2" fill="none"/>
<path d="M508.5,192 L534,235" stroke="#f4c400" stroke-width="1.2" fill="none"/>
<path d="M506.2,188.3 L513.1,193.5 L507.6,196.8 Z" fill="#f4c400" stroke="#5a4a12" stroke-width="0.5"/>
<path d="M536.5,239.0 L529.6,233.8 L535.1,230.5 Z" fill="#f4c400" stroke="#5a4a12" stroke-width="0.5"/>
<path d="M653.9,157.2 L632,208" stroke="#5a4a12" stroke-width="2.2" fill="none"/>
<path d="M653.9,157.2 L632,208" stroke="#f4c400" stroke-width="1.2" fill="none"/>
<path d="M629.7,212.9 L630.0,204.3 L635.8,206.8 Z" fill="#f4c400" stroke="#5a4a12" stroke-width="0.5"/>
<path d="M701,59.4 L725.8,45.2 L745,46.2 L717.3,62.2 Z" fill="#3a86d4" stroke="#1a2a50" stroke-width="0.8"/>
<path d="M712,57 L722,51 L728,53 L718,59 Z" fill="#c8ecfa" opacity="0.75"/>
<path d="M717.7,62.2 L782.1,27.4 L794.8,30.6 L805.4,37.9 L811.7,47.4 L814.9,60.1 L811.7,74.9 L752.6,110.8 L748,96 Q742,84 736,74 Q731,66 722,61 Z" fill="#4048b8" stroke="#1a1a50" stroke-width="0.7"/>
<path d="M718.5,62.5 L782.1,28.3 L794.8,31.5 L797,33 L724,67 L720.5,64.5 Z" fill="#44aee8"/>
<path d="M724,67 L797,33 L806,40 L812,50 L738,85 Q731,76 724,67 Z" fill="#4a50c8"/>
<path d="M726.0,69.6 L799.1,35.4" stroke="#5a62d8" stroke-width="0.5"/>
<path d="M728.0,72.1 L801.3,37.9" stroke="#5a62d8" stroke-width="0.5"/>
<path d="M730.0,74.7 L803.4,40.3" stroke="#5a62d8" stroke-width="0.5"/>
<path d="M732.0,77.3 L805.6,42.7" stroke="#5a62d8" stroke-width="0.5"/>
<path d="M734.0,79.9 L807.7,45.1" stroke="#5a62d8" stroke-width="0.5"/>
<path d="M736.0,82.4 L809.9,47.6" stroke="#5a62d8" stroke-width="0.5"/>
<path d="M738,85 L752,78 L755,88 L742,93 Z" fill="#6a2a1a"/>
<path d="M800,53 L812,48 L813.5,58 L802,63 Z" fill="#8a3a22"/>
<path d="M742,93 L813.5,58 L811.7,74.9 L752.6,110.8 Q746,102 742,93 Z" fill="#3a40b0"/>
<path d="M755,88 L800,63" stroke="#22246a" stroke-width="4"/>
<path d="M741,69 L747,66.5 L748.5,72 L742.5,74.5 Z" fill="#4a2410"/>
<path d="M770.3,78.6 L802.7,61.3 L855.9,70.5 L823.5,90.2 Z" fill="url(#gPanel)" stroke="#2a4a80" stroke-width="0.6"/>
<path d="M823.5,90.2 L855.9,70.5 L856.5,72.5 L824.5,92 Z" fill="#c89a60"/>
<ellipse cx="792" cy="77" rx="9" ry="6" fill="#4a9a50" opacity="0.6"/>
<path d="M769.5,78 L802,61.5" stroke="#d89050" stroke-width="1.2"/>
<path d="M714.9,62.2 Q711.5,71 715.8,81 Q719,88 721.7,91.3 Q726,97 731.1,101.5 Q736,106 741.4,108.3 Q746,110.5 752,110.8 Q750,102 748.2,96.4 Q745,90 741.4,84.4 Q739,79 736.3,74.2 Q732,68 727.7,63.9 Q721,60 714.9,62.2 Z" fill="#9a2e10" stroke="#3a1008" stroke-width="0.7"/>
<path d="M717,68 Q715,80 722,88 L728,86 Q724,78 724,70 Z M730,96 Q736,102 744,104 L741,96 Q736,92 733,90 Z" fill="#d87a28" opacity="0.6"/>
<path d="M714.6,86 Q716,82 722,83 L735,92 Q737,99 732,101 L722,101 Q714,94 714.6,86 Z" fill="#bdb6ac" stroke="#3a3228" stroke-width="0.6"/>
<path d="M718,86 Q722,85 727,89" stroke="#f4f0ea" stroke-width="1.4" fill="none"/>
<path d="M718,90 L722,98 Q712,110 708.2,116 Q697,111 691.3,93.9 Q706,93 718,90 Z" fill="#241a14"/>
<ellipse cx="699.6" cy="105" rx="5.8" ry="13.5" fill="#120c0a" transform="rotate(-35 699.6 105)"/>
<path d="M700,95 Q710,96 716,92" stroke="#6a5a4a" stroke-width="0.8" fill="none"/>
<path d="M613.2,346.7 L778.3,251.3 L826,296 L813.3,360.6 L625.9,374.2 Z" fill="#6890ca"/>
<path d="M696,418 C698,372 726,376 725,406 Z" fill="#121212"/><path d="M693.6,415 Q694,432 706,432.6 L712,432.6 L712,414 Z" fill="#4a4a4a"/><ellipse cx="712" cy="407" rx="10.8" ry="25.5" fill="#121212"/>
<path d="M488,416 Q492,432 512,433 L530,432 Q540,428 538,418 Z" fill="#141414"/>
<clipPath id="carClip"><path d="M485.8,369.7 Q490,362 504.2,359.2 Q525,355 544.7,354.3 L573.4,331.8 Q600,328.5 644,329.3 Q680,333 706,352 Q718,360 724.3,370.6 Q727,385 725.7,403 L724,405 C723,380 700,374 697,415 L648,422.5 C648,384 610,374 604.6,425.5 L530,430 Q505,430 488.5,419.4 Q483,412 484.5,406.3 Q483,385 485.8,369.7 Z"/></clipPath>
<path d="M485.8,369.7 Q490,362 504.2,359.2 Q525,355 544.7,354.3 L573.4,331.8 Q600,328.5 644,329.3 Q680,333 706,352 Q718,360 724.3,370.6 Q727,385 725.7,403 L724,405 C723,380 700,374 697,415 L648,422.5 C648,384 610,374 604.6,425.5 L530,430 Q505,430 488.5,419.4 Q483,412 484.5,406.3 Q483,385 485.8,369.7 Z" fill="url(#gCar)" stroke="#3a0a04" stroke-width="0.8"/>
<path d="M648,406 L697,401 L696.5,412 L648,417 Z" fill="#c8662a" opacity="0.7"/>
<path d="M628,375 L722,368 L724,378 Q680,380 628,384 Z" fill="#e05a24" opacity="0.55"/>
<path d="M500,362 Q540,358 600,362 Q570,366 520,368 Z" fill="#e86a2a" opacity="0.5"/>
<path d="M492,398 Q540,404 598,402 Q560,410 500,406 Z" fill="#d85020" opacity="0.6"/>
<path d="M546,354.3 L573.4,332.5 L637,332.3 L608,356 Z" fill="url(#gWind)" stroke="#2a0a04" stroke-width="0.7"/>
<path d="M486,370 Q540,364 606,368 L616,372" stroke="#7a1a0a" stroke-width="0.9" fill="none"/>
<path d="M504.2,359.5 Q540,361 580,372" stroke="#9a2a10" stroke-width="0.6" fill="none"/>
<path d="M505,373 Q503,372 503,375 L503.5,391 Q504,393.5 507,393.5 L529,393.5 Q532,393.5 532,390 L532,376 Q531,372.5 528,372.5 Z" fill="url(#mesh)" stroke="#3a1a0a" stroke-width="1"/>
<path d="M537,373.8 Q534.5,373.5 534.5,376 L535,393 Q535.5,396 539,396 L566,395.8 Q569.8,395.8 569.8,392 L569.5,379 Q569,374.5 564,374.5 Z" fill="url(#mesh)" stroke="#3a1a0a" stroke-width="1"/>
<path d="M485.8,370 L502.8,372 L502.5,384.5 L486,382 Z" fill="#151515"/>
<circle cx="491.5" cy="376.5" r="3.6" fill="#d8dde4" stroke="#555" stroke-width="0.6"/><circle cx="498.8" cy="377.4" r="3.2" fill="#c8ced8" stroke="#555" stroke-width="0.6"/>
<path d="M574.8,375 L607,374 L614,378 L614,390.6 L576,390.6 Z" fill="#151515"/>
<circle cx="585.2" cy="381.8" r="4.6" fill="#d8dde4" stroke="#555" stroke-width="0.6"/><circle cx="598.5" cy="381" r="4.6" fill="#c8ced8" stroke="#555" stroke-width="0.6"/>
<path d="M607,377 L613,380 L613.5,389.5 L607,389.5 Z" fill="#f0b020"/>
<path d="M503,410 L560,412 L559,418 L503,416.5 Z" fill="#1e1e1e"/>
<circle cx="489.8" cy="410.2" r="2.4" fill="#e8e8e0"/>
<path d="M585,409 L600,407 L602,420 L588,420 Z" fill="#2a0a06" opacity="0.8"/>
<circle cx="594.4" cy="414.1" r="3.4" fill="#f0f0e8" stroke="#444" stroke-width="0.6"/>
<path d="M603.5,428 C606,372 650,380 649,424 Z" fill="#121212"/>
<path d="M601,420 Q600,441 622,442.3 L632,442.3 L632,418 Z" fill="#4a4a4a"/>
<ellipse cx="630.6" cy="415" rx="17.2" ry="27.2" fill="#121212"/>
<ellipse cx="630.6" cy="414.3" rx="12.8" ry="20" fill="#d4d6d8" stroke="#777" stroke-width="0.8"/>
<path d="M632.1,411.0 L633.8,398.1 L638.9,403.8 Z" fill="#3a3a3c"/>
<path d="M633.1,415.5 L641.1,414.3 L639.3,423.8 Z" fill="#3a3a3c"/>
<path d="M630.6,418.3 L633.8,430.5 L627.7,430.6 Z" fill="#3a3a3c"/>
<path d="M628.1,415.6 L622.1,424.3 L620.1,414.9 Z" fill="#3a3a3c"/>
<path d="M629.0,411.1 L622.1,404.3 L627.0,398.3 Z" fill="#3a3a3c"/>
<ellipse cx="630" cy="414" rx="3.6" ry="5.4" fill="#b8babc"/>
<ellipse cx="712.7" cy="410" rx="6.6" ry="16.8" fill="#c8cacd" stroke="#666" stroke-width="0.7"/>
<path d="M713.5,407.5 L714.4,396.7 L716.8,401.0 Z" fill="#3a3a3c"/>
<path d="M714.1,410.8 L718.1,410.0 L717.3,417.4 Z" fill="#3a3a3c"/>
<path d="M712.8,413.0 L714.4,423.3 L711.4,423.6 Z" fill="#3a3a3c"/>
<path d="M711.3,411.0 L708.3,418.2 L707.3,411.0 Z" fill="#3a3a3c"/>
<path d="M711.8,407.6 L708.3,401.8 L710.7,397.0 Z" fill="#3a3a3c"/>
<path d="M653.4,374 L652,420 M684,372 L684,416 M711.5,372 L708,392" stroke="#5a1008" stroke-width="0.7" fill="none"/>
<path d="M613.2,346.7 L778.3,251.3 L826,296 L813.3,360.6 L625.9,374.2 Z" fill="#4a5cc0" opacity="0.8" clip-path="url(#carClip)"/>
<path d="M652,360.4 L654.5,338 Q655,335 659,335.3 L674,338 Q680,339.5 680.8,344 L680.8,360.4 Z" fill="#4a6cc4" stroke="#26348a" stroke-width="1.2"/>
<path d="M654,340 L674,342 L678,352 L653,350 Z" fill="#3a54b0" opacity="0.6"/>
<path d="M682.5,361 L682.5,340 Q690,340 694,346 Q698,354 698.5,361.5 Z" fill="#4a6cc4" stroke="#26348a" stroke-width="1.2"/>
<ellipse cx="668.2" cy="354.1" rx="8" ry="4" fill="#6a58a8" stroke="#2a2a70" stroke-width="0.8"/>
<path d="M613.2,346.7 L778.3,251.3" stroke="#0e0e14" stroke-width="1.3"/>
<path d="M625.9,374.2 L813.3,360.6" stroke="#0e0e14" stroke-width="1.3"/>
<circle cx="618.5" cy="360.4" r="14.5" fill="url(#gEng)" stroke="#111" stroke-width="1"/>
<path d="M612,352 L620,349 L628,351 L630,356 L626,359 L619,358 L614,360 L610,357 Z" fill="#d6dce4"/>
<path d="M616,353.5 L621,352 L623,356 L618,357 Z" fill="#3a4254"/>
<path d="M606,362 L612,360 L616,366 L611,370 Z M620,362 L628,361 L631,366 L624,369 Z M608,350 L611,348 L612,352 Z" fill="#7a8498"/>
<path d="M626,358 Q630,362 628,368" stroke="#aab2c0" stroke-width="1" fill="none"/>
<circle cx="826.2" cy="296.5" r="65.8" fill="#fff" stroke="#0e0e0e" stroke-width="1.8"/>
<path d="M774,290.6 L842.5,262.3 Q880,264 884.8,268.2 Q889,272 889.2,300.8 L829.4,331.5 L774,318.4 Z" fill="#2c302a"/>
<path d="M774,290.6 L842.5,262.3 L882,266 Q886,268 884.8,270 L828,303.8 Z" fill="url(#gDevTop)"/>
<path d="M774,290.6 L828,303.8 L829.4,331.5 L774,318.4 Z" fill="#262a24"/>
<path d="M774.5,291 L828,304" stroke="#8a9088" stroke-width="0.8"/>
<path d="M828,303.8 L884.8,268.2" stroke="#4a5048" stroke-width="0.8"/>
<path d="M776.9,302.3 L814.8,309 L814.8,321.3 L776.9,314 Z" fill="#181a16" stroke="#5a605a" stroke-width="0.6"/>
<rect x="778.5" y="304.5" width="2.4" height="3" fill="#3e423c"/>
<rect x="782.5" y="305.2" width="2.4" height="3" fill="#3e423c"/>
<rect x="786.5" y="305.9" width="2.4" height="3" fill="#3e423c"/>
<rect x="790.5" y="306.7" width="2.4" height="3" fill="#3e423c"/>
<rect x="794.5" y="307.4" width="2.4" height="3" fill="#3e423c"/>
<rect x="798.5" y="308.1" width="2.4" height="3" fill="#3e423c"/>
<rect x="802.5" y="308.8" width="2.4" height="3" fill="#3e423c"/>
<rect x="806.5" y="309.5" width="2.4" height="3" fill="#3e423c"/>
<rect x="810.5" y="310.3" width="2.4" height="3" fill="#3e423c"/>
<rect x="778.5" y="309.5" width="2.4" height="3" fill="#3e423c"/>
<rect x="782.5" y="310.2" width="2.4" height="3" fill="#3e423c"/>
<rect x="786.5" y="310.9" width="2.4" height="3" fill="#3e423c"/>
<rect x="790.5" y="311.7" width="2.4" height="3" fill="#3e423c"/>
<rect x="794.5" y="312.4" width="2.4" height="3" fill="#3e423c"/>
<rect x="798.5" y="313.1" width="2.4" height="3" fill="#3e423c"/>
<rect x="802.5" y="313.8" width="2.4" height="3" fill="#3e423c"/>
<rect x="806.5" y="314.5" width="2.4" height="3" fill="#3e423c"/>
<rect x="810.5" y="315.3" width="2.4" height="3" fill="#3e423c"/>
<path d="M829,310.0 L886,275.5" stroke="#383c36" stroke-width="0.8"/>
<path d="M829,316.5 L886,281.5" stroke="#383c36" stroke-width="0.8"/>
<path d="M829,323.0 L886,287.5" stroke="#383c36" stroke-width="0.8"/>
<path d="M829,329.5 L886,293.5" stroke="#383c36" stroke-width="0.8"/>
<rect x="831.6" y="300.4" width="3.2" height="2" fill="#4a5048" transform="rotate(-32 831.6 301.6)"/>
<rect x="838.7" y="295.9" width="3.2" height="2" fill="#4a5048" transform="rotate(-32 838.7 297.1)"/>
<rect x="845.8" y="291.5" width="3.2" height="2" fill="#4a5048" transform="rotate(-32 845.8 292.7)"/>
<rect x="852.9" y="287.0" width="3.2" height="2" fill="#4a5048" transform="rotate(-32 852.9 288.2)"/>
<rect x="860.1" y="282.6" width="3.2" height="2" fill="#4a5048" transform="rotate(-32 860.1 283.8)"/>
<rect x="867.2" y="278.1" width="3.2" height="2" fill="#4a5048" transform="rotate(-32 867.2 279.3)"/>
<rect x="874.3" y="273.7" width="3.2" height="2" fill="#4a5048" transform="rotate(-32 874.3 274.9)"/>
<rect x="881.4" y="269.2" width="3.2" height="2" fill="#4a5048" transform="rotate(-32 881.4 270.4)"/>
<rect x="816" y="309" width="6" height="3" fill="#5a5e58" transform="rotate(12 816 309)"/>
</svg>
</body></html>
